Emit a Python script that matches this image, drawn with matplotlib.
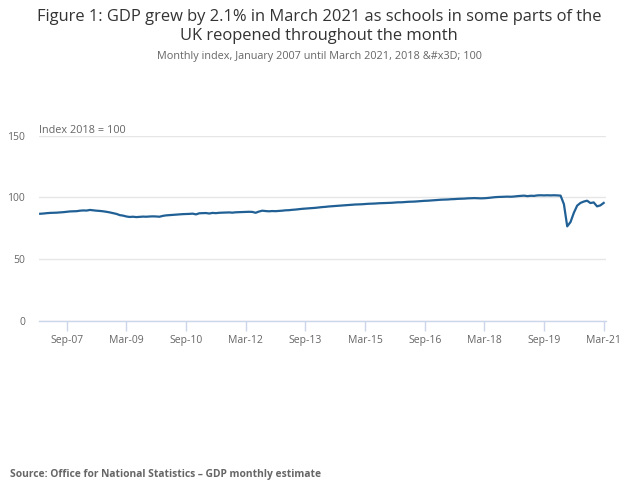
import matplotlib as mpl
mpl.use('Agg')
import matplotlib.pyplot as plt
import pandas as pd

# Monthly GDP index, 2018 = 100, Jan 2007 .. Mar 2021
gdp_2007_2010 = [86.7, 86.9, 87.2, 87.4, 87.5, 87.6, 87.8, 88.0, 88.3, 88.6, 88.7, 88.8,
                 89.2, 89.4, 89.3, 89.8, 89.5, 89.2, 89.0, 88.7, 88.3, 87.8, 87.2, 86.6,
                 85.6, 85.2, 84.5, 84.1, 84.3, 84.0, 84.2, 84.4, 84.3, 84.5, 84.6, 84.5,
                 84.3, 85.0, 85.4, 85.6, 85.8, 86.0, 86.2, 86.4, 86.5, 86.6, 86.8, 86.2]
gdp_2011_2014 = [87.1, 87.2, 87.3, 86.9, 87.4, 87.2, 87.5, 87.6, 87.7, 87.8, 87.6, 87.9,
                 88.0, 88.1, 88.2, 88.3, 88.2, 87.5, 88.5, 89.2, 88.9, 88.7, 88.9, 88.8,
                 89.0, 89.2, 89.5, 89.6, 89.9, 90.1, 90.4, 90.7, 90.9, 91.1, 91.3, 91.5,
                 91.8, 92.1, 92.3, 92.6, 92.8, 93.0, 93.2, 93.4, 93.6, 93.8, 94.0, 94.2]
gdp_2015_2018 = [94.3, 94.4, 94.6, 94.8, 94.9, 95.0, 95.2, 95.3, 95.4, 95.5, 95.6, 95.8,
                 96.0, 96.0, 96.2, 96.4, 96.5, 96.6, 96.8, 97.0, 97.2, 97.3, 97.5, 97.7,
                 97.9, 98.1, 98.2, 98.3, 98.5, 98.6, 98.8, 98.9, 99.0, 99.2, 99.3, 99.4,
                 99.3, 99.2, 99.3, 99.5, 99.8, 100.1, 100.3, 100.4, 100.5, 100.6, 100.5, 100.7]
gdp_2019_2021 = [101.0, 101.2, 101.4, 101.0, 101.3, 101.2, 101.6, 101.7, 101.6, 101.7, 101.6, 101.7,
                 101.6, 101.4, 94.5, 76.5, 80.0, 87.5, 93.3, 95.5, 96.6, 97.3, 95.4, 95.9,
                 92.7, 93.5, 95.5]
gdp_index = gdp_2007_2010 + gdp_2011_2014 + gdp_2015_2018 + gdp_2019_2021
months = pd.date_range('2007-01-01', periods=len(gdp_index), freq='MS')

tick_months = [8, 26, 44, 62, 80, 98, 116, 134, 152, 170]
tick_labels = [months[i].strftime('%b-%y') for i in tick_months]
y_ticks = [0, 50, 100, 150]

plt.rcParams['font.family'] = ['Open Sans', 'DejaVu Sans']

fig = plt.figure(figsize=(6.38, 5.0), dpi=100)
ax = fig.add_axes([39 / 638, 1 - 320.7 / 500, 567 / 638, 185 / 500])

ax.plot(range(len(gdp_index)), gdp_index, color='#206095', linewidth=1.6, solid_joinstyle='round')

ax.set_xlim(-0.36, 170.7)
ax.set_ylim(0, 150)
ax.set_yticks(y_ticks)
ax.set_xticks(tick_months)
ax.set_xticklabels(tick_labels)
ax.yaxis.grid(True, color='#e6e6e6', linewidth=1)
ax.set_axisbelow(True)
for side in ['top', 'right', 'left']:
  ax.spines[side].set_visible(False)
ax.spines['bottom'].set_color('#ccd6eb')
ax.spines['bottom'].set_linewidth(1)
ax.tick_params(axis='x', direction='out', length=7, width=1, color='#ccd6eb',
               labelsize=7.5, labelcolor='#666666', pad=3)
ax.tick_params(axis='y', length=0, labelsize=7.5, labelcolor='#666666', pad=10)

# axis title sits just above the top gridline
ax.text(0, 1.014, 'Index 2018 = 100', transform=ax.transAxes, fontsize=7.8,
        color='#666666', ha='left', va='baseline')

fig.text(0.5, 1 - 26.5 / 500, 'Figure 1: GDP grew by 2.1% in March 2021 as schools in some parts of the\nUK reopened throughout the month',
         ha='center', va='center', fontsize=11.9, color='#333333', linespacing=1.3)
fig.text(0.5, 1 - 57 / 500, 'Monthly index, January 2007 until March 2021, 2018 &#x3D; 100',
         ha='center', va='center', fontsize=7.85, color='#666666')
fig.text(10 / 638, 1 - 474 / 500, 'Source: Office for National Statistics \u2013 GDP monthly estimate',
         ha='left', va='center', fontsize=7.4, color='#666666', fontweight='bold')

fig.savefig('out.png', dpi=100)
plt.close()
